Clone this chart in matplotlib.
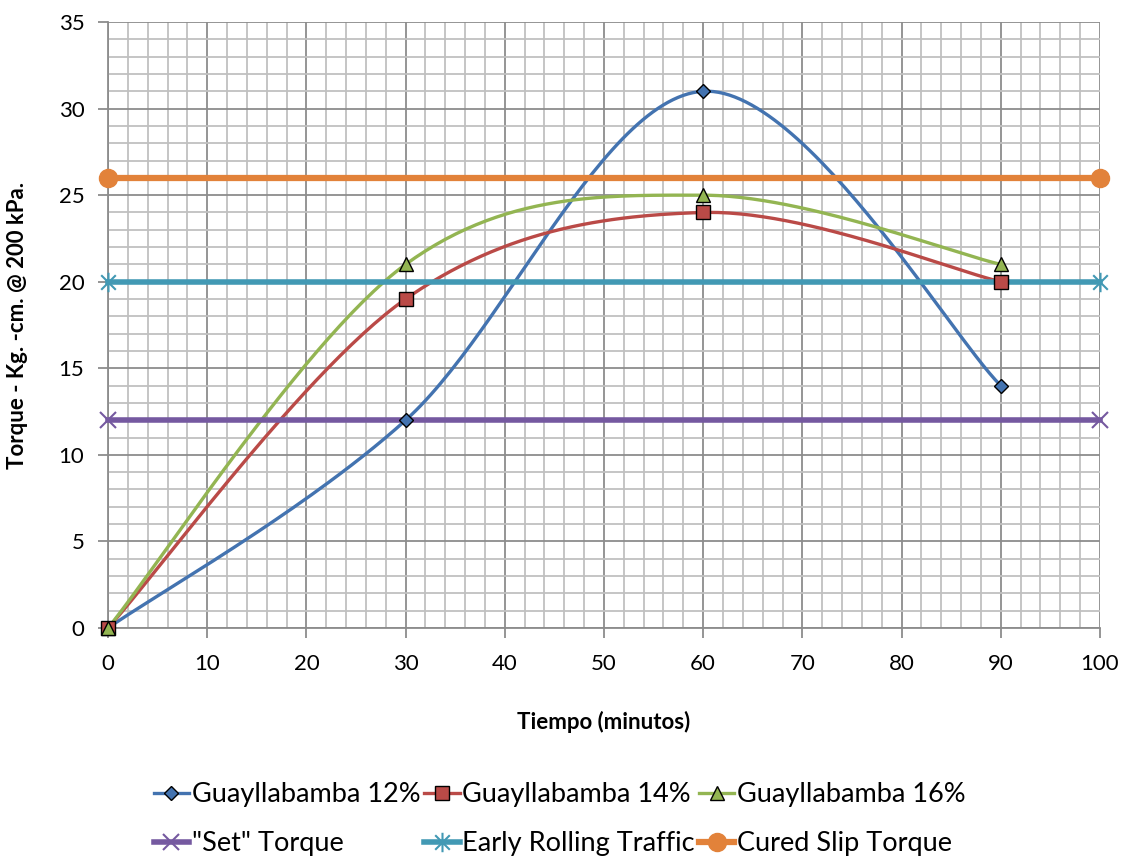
import numpy as np
import matplotlib
matplotlib.use("Agg")
import matplotlib.pyplot as plt
from matplotlib.path import Path
from matplotlib.ticker import MultipleLocator
from matplotlib.lines import Line2D

plt.rcParams['font.family'] = ['Lato', 'DejaVu Sans']

# Data
tiempo = [0, 30, 60, 90]
g12 = [0, 12, 31, 14]
g14 = [0, 19, 24, 20]
g16 = [0, 21, 25, 21]
ref_x = [0, 100]
set_torque = [12, 12]
early_rolling = [20, 20]
cured_slip = [26, 26]

labels = ['Guayllabamba 12%', 'Guayllabamba 14%', 'Guayllabamba 16%',
          '"Set" Torque', 'Early Rolling Traffic', 'Cured Slip Torque']


def smooth(xs, ys, n=60):
    """Catmull-Rom style smoothing through every data point."""
    P = np.column_stack([xs, ys]).astype(float)
    m = len(P)
    out = []
    for i in range(m - 1):
        p0 = P[max(i - 1, 0)]
        p1 = P[i]
        p2 = P[i + 1]
        p3 = P[min(i + 2, m - 1)]
        c1 = p1 + (p2 - p0) / 6.0
        c2 = p2 - (p3 - p1) / 6.0
        t = np.linspace(0, 1, n)[:, None]
        seg = ((1 - t) ** 3) * p1 + 3 * ((1 - t) ** 2) * t * c1 + 3 * (1 - t) * t ** 2 * c2 + t ** 3 * p2
        out.append(seg if i == 0 else seg[1:])
    s = np.vstack(out)
    return s[:, 0], s[:, 1]


# Asterisk marker: vertical stroke plus an X
star_verts = [(0, -1), (0, 1), (-0.75, -0.75), (0.75, 0.75), (-0.75, 0.75), (0.75, -0.75)]
star_codes = [Path.MOVETO, Path.LINETO] * 3
star_marker = Path(star_verts, star_codes)

c_blue = '#4373B0'
c_red = '#BA4A47'
c_green = '#93B552'
c_purple = '#7559A0'
c_teal = '#4299B4'
c_orange = '#E2823A'

fig = plt.figure(figsize=(11.24, 8.57), dpi=100)
ax = fig.add_axes([0.0961, 0.2672, 0.8825, 0.7071])

ax.set_xlim(0, 100)
ax.set_ylim(0, 35)
ax.xaxis.set_major_locator(MultipleLocator(10))
ax.xaxis.set_minor_locator(MultipleLocator(2))
ax.yaxis.set_major_locator(MultipleLocator(5))
ax.yaxis.set_minor_locator(MultipleLocator(1))
ax.grid(which='minor', color='#C0C0C0', linewidth=1.3, zorder=0)
ax.grid(which='major', color='#8C8C8C', linewidth=1.3, zorder=0)
ax.set_axisbelow(True)
for s in ['top', 'right']:
    ax.spines[s].set_visible(False)
ax.spines['left'].set_color('#8C8C8C')
ax.spines['bottom'].set_color('#8C8C8C')
ax.spines['left'].set_linewidth(1.3)
ax.spines['bottom'].set_linewidth(1.3)
ax.tick_params(which='major', length=7, width=1.3, color='#8C8C8C', labelsize=16)
ax.tick_params(axis='x', which='major', pad=12)
ax.tick_params(axis='y', which='major', pad=10)
ax.tick_params(which='minor', length=0)

for xs, ys, col, mk, ms in [(tiempo, g12, c_blue, 'D', 7),
                             (tiempo, g14, c_red, 's', 10),
                             (tiempo, g16, c_green, '^', 10)]:
    sx, sy = smooth(xs, ys)
    ax.plot(sx, sy, color=col, linewidth=2.4, zorder=3, clip_on=False)
    ax.plot(xs, ys, linestyle='None', marker=mk, markersize=ms,
            markerfacecolor=col, markeredgecolor='black', markeredgewidth=1.0,
            zorder=4, clip_on=False)

ax.plot(ref_x, set_torque, color=c_purple, linewidth=4, marker='x', markersize=12,
        markeredgewidth=1.5, zorder=3, clip_on=False)
ax.plot(ref_x, early_rolling, color=c_teal, linewidth=4, marker=star_marker,
        markersize=14, markeredgewidth=1.5, zorder=3, clip_on=False)
ax.plot(ref_x, cured_slip, color=c_orange, linewidth=4.5, marker='o', markersize=13,
        zorder=3, clip_on=False)

ax.set_xlabel('Tiempo (minutos)', fontsize=16, fontweight='bold', labelpad=26)
ax.set_ylabel('Torque - Kg. -cm. @ 200 kPa.', fontsize=16, fontweight='bold', labelpad=22)

# Legend proxies with line + marker
leg_handles = [
    Line2D([], [], color=c_blue, lw=2.4, marker='D', ms=7, mfc=c_blue, mec='black', mew=1.0),
    Line2D([], [], color=c_purple, lw=4, marker='x', ms=12, mew=1.5),
    Line2D([], [], color=c_red, lw=2.4, marker='s', ms=10, mfc=c_red, mec='black', mew=1.0),
    Line2D([], [], color=c_teal, lw=4, marker=star_marker, ms=14, mew=1.5),
    Line2D([], [], color=c_green, lw=2.4, marker='^', ms=10, mfc=c_green, mec='black', mew=1.0),
    Line2D([], [], color=c_orange, lw=4.5, marker='o', ms=13),
]
leg_labels = [labels[0], labels[3], labels[1], labels[4], labels[2], labels[5]]
fig.legend(leg_handles, leg_labels, loc='center', bbox_to_anchor=(0.498, 0.044),
           ncol=3, frameon=False, fontsize=19.5, handlelength=1.3, handletextpad=0.1,
           columnspacing=0.15, labelspacing=0.9)

fig.savefig('out.png', dpi=100)
